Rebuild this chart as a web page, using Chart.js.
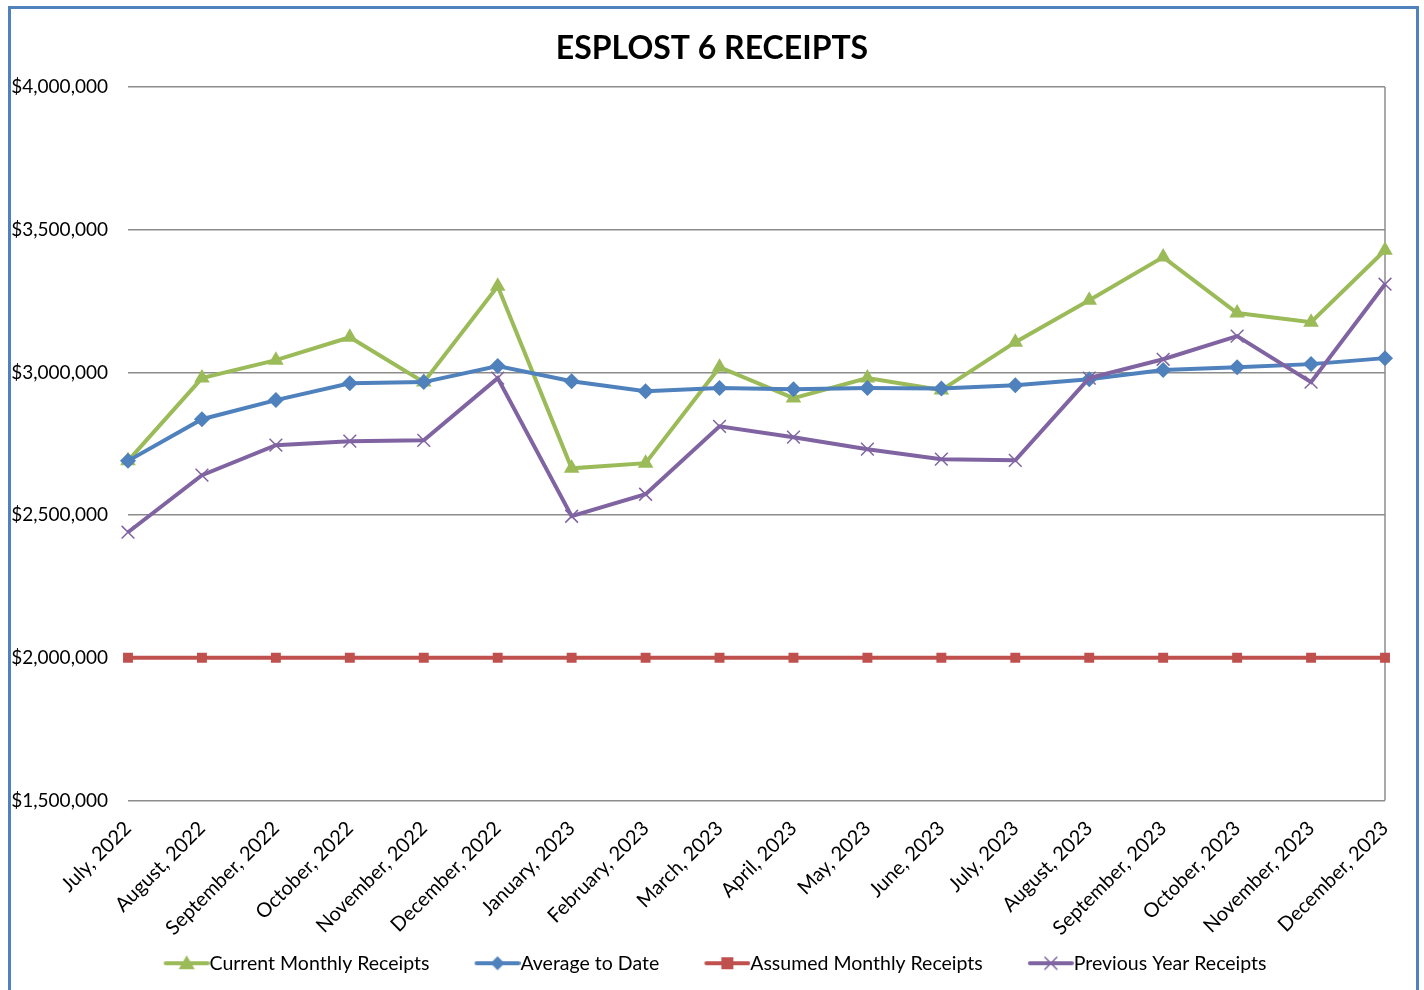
<!DOCTYPE html>
<html>
<head>
<meta charset="utf-8">
<script src="https://cdn.jsdelivr.net/npm/chart.js@4.4.1/dist/chart.umd.min.js"></script>
<style>
  html, body { margin: 0; padding: 0; background: #fff; }
  #wrap { position: absolute; left: 0; top: 0; width: 1424px; height: 990px; }
  #frame {
    position: absolute; left: 8px; top: 6px; width: 1405px; height: 1100px;
    border: 3px solid #4f81bd; pointer-events: none;
  }
</style>
</head>
<body>
<div id="wrap"><canvas id="receiptsChart"></canvas></div>
<div id="frame"></div>
<script>
// ---------- datos ----------
const months = [
  'July, 2022', 'August, 2022', 'September, 2022', 'October, 2022', 'November, 2022', 'December, 2022',
  'January, 2023', 'February, 2023', 'March, 2023', 'April, 2023', 'May, 2023', 'June, 2023',
  'July, 2023', 'August, 2023', 'September, 2023', 'October, 2023', 'November, 2023', 'December, 2023'
];
const currentMonthly = [2690000, 2980000, 3043000, 3123000, 2966000, 3302000, 2664000, 2682000, 3018000,
  2910000, 2980000, 2938000, 3106000, 3253000, 3404000, 3208000, 3176000, 3428000];
const averageToDate = [2690000, 2836000, 2903000, 2962000, 2966000, 3022000, 2969000, 2934000, 2945000,
  2941000, 2945000, 2944000, 2955000, 2976000, 3008000, 3018000, 3029000, 3050000];
const assumedMonthly = [2000000, 2000000, 2000000, 2000000, 2000000, 2000000, 2000000, 2000000, 2000000,
  2000000, 2000000, 2000000, 2000000, 2000000, 2000000, 2000000, 2000000, 2000000];
const previousYear = [2440000, 2640000, 2745000, 2759000, 2762000, 2980000, 2496000, 2573000, 2811000,
  2773000, 2731000, 2696000, 2692000, 2980000, 3046000, 3127000, 2966000, 3309000];
const yTicks = [1500000, 2000000, 2500000, 3000000, 3500000, 4000000];

const FONT = 'Lato, "Open Sans", sans-serif';
const GREEN = '#9bbb59', BLUE = '#4f81bd', RED = '#c0504d', PURPLE = '#8064a2';

// icono de leyenda: hueco + linea + marcador; el texto empieza justo donde acaba la linea
const LEG_FONT = 19.5;
const LEG_PAD = 5;
const LEG_LINE = 46;
const LEG_EXTRA = 40;                       // hueco entre elementos (LEG_PAD + LEG_EXTRA ~ 45px)
const LEG_GAP = LEG_FONT / 2;
const LEG_BOX = LEG_EXTRA + LEG_LINE - LEG_GAP;
function legendIcon(color, shape) {
  const c = document.createElement('canvas');
  const W = Math.round(LEG_BOX + LEG_GAP * 2);
  c.width = W; c.height = 18;
  const g = c.getContext('2d');
  const x0 = W - LEG_LINE, x1 = W, cy = 9, cx = (x0 + x1) / 2;
  g.strokeStyle = color; g.fillStyle = color; g.lineWidth = 4; g.lineCap = 'round';
  g.beginPath(); g.moveTo(x0 + 2, cy); g.lineTo(x1 - 2, cy); g.stroke();
  g.beginPath();
  if (shape === 'triangle') {
    g.moveTo(cx, cy - 8); g.lineTo(cx + 8, cy + 6); g.lineTo(cx - 8, cy + 6); g.closePath(); g.fill();
  } else if (shape === 'diamond') {
    g.moveTo(cx, cy - 7); g.lineTo(cx + 7, cy); g.lineTo(cx, cy + 7); g.lineTo(cx - 7, cy); g.closePath(); g.fill();
  } else if (shape === 'square') {
    g.rect(cx - 6, cy - 6, 12, 12); g.fill();
  } else {
    g.lineWidth = 1.5;
    g.moveTo(cx - 6, cy - 6); g.lineTo(cx + 6, cy + 6);
    g.moveTo(cx + 6, cy - 6); g.lineTo(cx - 6, cy + 6); g.stroke();
  }
  return c;
}

const legendShapes = ['triangle', 'diamond', 'square', 'cross'];

// linea del borde derecho del area de trazado
const plotBorder = {
  id: 'plotBorder',
  beforeDatasetsDraw(chart) {
    const { ctx, chartArea } = chart;
    ctx.save();
    ctx.strokeStyle = '#8c8c8c';
    ctx.lineWidth = 1.5;
    ctx.beginPath();
    ctx.moveTo(chartArea.right, chartArea.top);
    ctx.lineTo(chartArea.right, chartArea.bottom);
    ctx.stroke();
    ctx.restore();
  }
};

// el hueco del primer icono descentra la leyenda: se compensa
const legendShift = {
  id: 'legendShift',
  afterLayout(chart) {
    const dx = LEG_EXTRA / 2 - 3;
    chart.legend.left -= dx;
    chart.legend.right -= dx;
  }
};

const ctx = document.getElementById('receiptsChart').getContext('2d');
new Chart(ctx, {
  type: 'line',
  data: {
    labels: months,
    datasets: [
      {
        label: 'Current Monthly Receipts', data: currentMonthly,
        borderColor: GREEN, backgroundColor: GREEN, borderWidth: 4,
        pointStyle: 'triangle', pointRadius: 9, pointBorderWidth: 0, order: 4
      },
      {
        label: 'Average to Date', data: averageToDate,
        borderColor: BLUE, backgroundColor: BLUE, borderWidth: 4,
        pointStyle: 'rectRot', pointRadius: 8, pointBorderWidth: 0, order: 3
      },
      {
        label: 'Assumed Monthly Receipts', data: assumedMonthly,
        borderColor: RED, backgroundColor: RED, borderWidth: 4,
        pointStyle: 'rect', pointRadius: 7, pointBorderWidth: 0, order: 2
      },
      {
        label: 'Previous Year Receipts', data: previousYear,
        borderColor: PURPLE, backgroundColor: PURPLE, borderWidth: 4,
        pointStyle: 'crossRot', pointRadius: 9, pointBorderWidth: 1.5, order: 1
      }
    ]
  },
  options: {
    responsive: true,
    maintainAspectRatio: false,
    animation: false,
    layout: { padding: { left: 0, right: 0, top: 14, bottom: 7 } },
    plugins: {
      title: {
        display: true,
        text: 'ESPLOST 6 RECEIPTS',
        color: '#000',
        font: { family: FONT, size: 32, weight: 'bold' },
        padding: { top: 15, bottom: 19.6 }
      },
      legend: {
        position: 'bottom',
        labels: {
          usePointStyle: true,
          pointStyleWidth: LEG_BOX,
          padding: LEG_PAD,
          color: '#000',
          font: { family: FONT, size: LEG_FONT },
          generateLabels(chart) {
            return chart.data.datasets.map((ds, i) => ({
              text: ds.label,
              fontColor: '#000',
              pointStyle: legendIcon(ds.borderColor, legendShapes[i]),
              datasetIndex: i,
              hidden: !chart.isDatasetVisible(i),
              lineWidth: 0,
              strokeStyle: 'transparent',
              fillStyle: 'transparent'
            }));
          }
        }
      },
      tooltip: { enabled: false }
    },
    scales: {
      x: {
        offset: false,
        grid: { display: false },
        border: { display: false },
        ticks: {
          color: '#000',
          font: { family: FONT, size: 20 },
          minRotation: 45, maxRotation: 45,
          autoSkip: false, padding: 8
        },
        // las etiquetas giradas no deben empujar el area de trazado
        afterFit(axis) { axis.paddingLeft = 0; axis.paddingRight = 0; axis.height = 148; }
      },
      y: {
        min: 1500000, max: 4000000,
        afterBuildTicks(axis) { axis.ticks = yTicks.map(v => ({ value: v })); },
        grid: { color: '#8c8c8c', lineWidth: 1.5, drawTicks: false },
        border: { display: false },
        ticks: {
          color: '#000',
          font: { family: FONT, size: 19 },
          padding: 20,
          callback: v => '$' + v.toLocaleString('en-US')
        },
        afterFit(axis) { axis.width = 128; }
      },
      // eje vacio a la derecha: deja el margen derecho sin descentrar titulo y leyenda
      yRight: {
        position: 'right',
        grid: { display: false },
        border: { display: false },
        ticks: { display: false },
        afterFit(axis) { axis.width = 39; }
      }
    }
  },
  plugins: [plotBorder, legendShift]
});
</script>
</body>
</html>
